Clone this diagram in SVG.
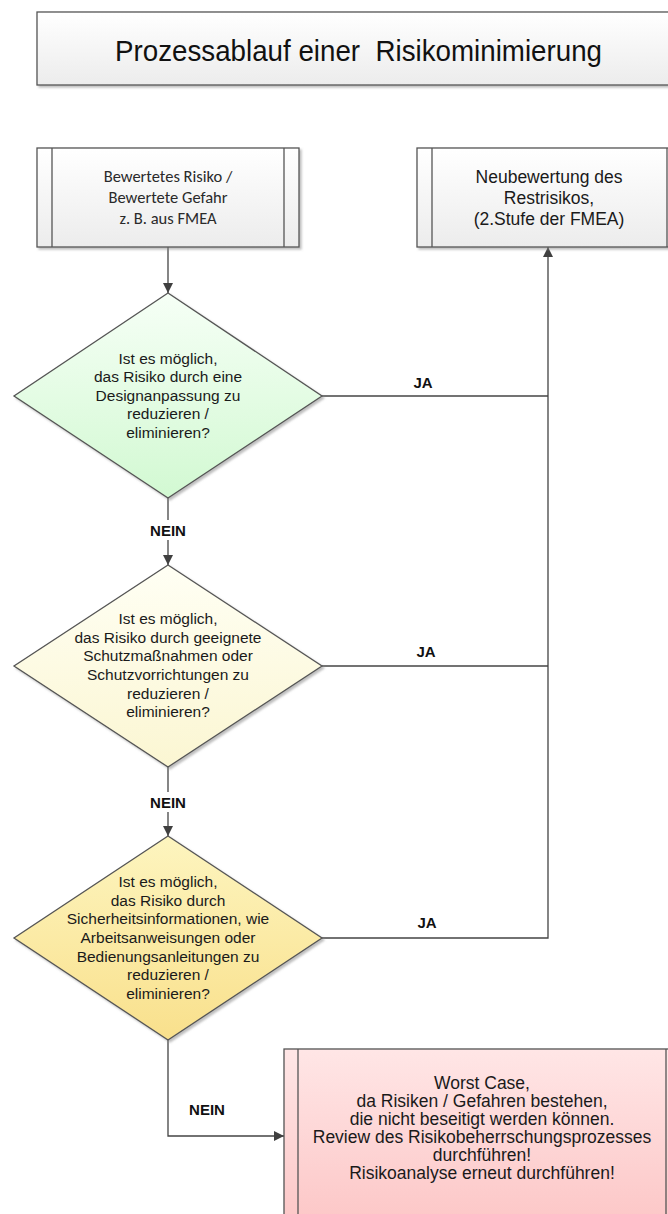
<svg xmlns="http://www.w3.org/2000/svg" width="668" height="1214" viewBox="0 0 668 1214">
<defs>
<linearGradient id="gBox" x1="0" y1="0" x2="0" y2="1"><stop offset="0" stop-color="#ffffff"/><stop offset="1" stop-color="#ececec"/></linearGradient>
<linearGradient id="gGreen" x1="0" y1="0" x2="0" y2="1"><stop offset="0" stop-color="#f6fff6"/><stop offset="1" stop-color="#d2f9d2"/></linearGradient>
<linearGradient id="gLYellow" x1="0" y1="0" x2="0" y2="1"><stop offset="0" stop-color="#fffff4"/><stop offset="1" stop-color="#fbf6d2"/></linearGradient>
<linearGradient id="gYellow" x1="0" y1="0" x2="0" y2="1"><stop offset="0" stop-color="#fdf5bf"/><stop offset="1" stop-color="#f9e08c"/></linearGradient>
<linearGradient id="gPink" x1="0" y1="0" x2="0" y2="1"><stop offset="0" stop-color="#ffe6e6"/><stop offset="1" stop-color="#fcc4c4"/></linearGradient>
<filter id="shadow" x="-10%" y="-10%" width="130%" height="130%"><feDropShadow dx="2" dy="2" stdDeviation="1.2" flood-color="#888" flood-opacity="0.55"/></filter>
<marker id="arrow" viewBox="0 0 10 12" refX="10" refY="6" markerWidth="10" markerHeight="12" markerUnits="userSpaceOnUse" orient="auto"><path d="M0,1 L10,6 L0,11 Z" fill="#404040"/></marker>
</defs>
<style>
.shape{stroke:#555;stroke-width:1.3;filter:url(#shadow)}
.inner{stroke:#555;stroke-width:1.3;fill:none}
.conn{stroke:#444;stroke-width:1.3;fill:none}
.title{font-family:"Liberation Sans",Arial,sans-serif;font-size:30px;fill:#111;white-space:pre}
.cal{font-family:Carlito,Lato,"Liberation Sans",sans-serif;font-size:16.5px;fill:#2a2a2a;text-anchor:middle}
.ar{font-family:"Liberation Sans",Arial,sans-serif;font-size:17.5px;fill:#1a1a1a;text-anchor:middle}
.dt{font-family:"Liberation Sans",Arial,sans-serif;font-size:15.5px;fill:#1a1a1a;text-anchor:middle}
.lbl{font-family:"Liberation Sans",Arial,sans-serif;font-size:15px;font-weight:bold;fill:#111;text-anchor:middle}
</style>
<rect width="668" height="1214" fill="#ffffff"/>

<g id="title">
<rect class="shape" x="37" y="12" width="648" height="73" fill="url(#gBox)"/>
<text class="title" x="115" y="61" textLength="487" lengthAdjust="spacingAndGlyphs" xml:space="preserve">Prozessablauf einer  Risikominimierung</text>
</g>

<g id="connectors">
<line class="conn" x1="168" y1="247" x2="168" y2="293" marker-end="url(#arrow)"/>
<line class="conn" x1="168" y1="498" x2="168" y2="565" marker-end="url(#arrow)"/>
<line class="conn" x1="168" y1="767" x2="168" y2="836" marker-end="url(#arrow)"/>
<polyline class="conn" points="168,1040 168,1136 284,1136" marker-end="url(#arrow)"/>
<line class="conn" x1="322" y1="396" x2="548" y2="396"/>
<line class="conn" x1="322" y1="666" x2="548" y2="666"/>
<polyline class="conn" points="322,938 548,938 548,247" marker-end="url(#arrow)"/>
<rect x="144" y="520" width="48" height="20" fill="#ffffff"/>
<rect x="144" y="792" width="48" height="20" fill="#ffffff"/>
<text class="lbl" x="168" y="536">NEIN</text>
<text class="lbl" x="168" y="808">NEIN</text>
<text class="lbl" x="207" y="1115">NEIN</text>
<text class="lbl" x="423" y="388">JA</text>
<text class="lbl" x="426" y="657">JA</text>
<text class="lbl" x="427" y="928">JA</text>
</g>

<g id="start">
<rect class="shape" x="37" y="148" width="262" height="99" fill="url(#gBox)"/>
<line class="inner" x1="52" y1="148" x2="52" y2="247"/>
<line class="inner" x1="284" y1="148" x2="284" y2="247"/>
<text class="cal" x="168" y="182">Bewertetes Risiko /</text>
<text class="cal" x="168" y="203">Bewertete Gefahr</text>
<text class="cal" x="168" y="224">z. B. aus FMEA</text>
</g>

<g id="reassess">
<rect class="shape" x="417" y="148" width="265" height="99" fill="url(#gBox)"/>
<line class="inner" x1="432" y1="148" x2="432" y2="247"/>
<line class="inner" x1="667" y1="148" x2="667" y2="247"/>
<text class="ar" x="549" y="183">Neubewertung des</text>
<text class="ar" x="549" y="204">Restrisikos,</text>
<text class="ar" x="549" y="225">(2.Stufe der FMEA)</text>
</g>

<g id="decision1">
<polygon class="shape" points="168,293 322,396 168,498 14,396" fill="url(#gGreen)"/>
<text class="dt" x="168" y="363.5">Ist es möglich,</text>
<text class="dt" x="168" y="382">das Risiko durch eine</text>
<text class="dt" x="168" y="400.7">Designanpassung zu</text>
<text class="dt" x="168" y="419.3">reduzieren /</text>
<text class="dt" x="168" y="438">eliminieren?</text>
</g>

<g id="decision2">
<polygon class="shape" points="168,565 322,666 168,767 14,666" fill="url(#gLYellow)"/>
<text class="dt" x="168" y="624">Ist es möglich,</text>
<text class="dt" x="168" y="642.7">das Risiko durch geeignete</text>
<text class="dt" x="168" y="661.3">Schutzmaßnahmen oder</text>
<text class="dt" x="168" y="680">Schutzvorrichtungen zu</text>
<text class="dt" x="168" y="698.7">reduzieren /</text>
<text class="dt" x="168" y="717.3">eliminieren?</text>
</g>

<g id="decision3">
<polygon class="shape" points="168,836 322,938 168,1040 14,938" fill="url(#gYellow)"/>
<text class="dt" x="168" y="887">Ist es möglich,</text>
<text class="dt" x="168" y="905.7">das Risiko durch</text>
<text class="dt" x="168" y="924.3">Sicherheitsinformationen, wie</text>
<text class="dt" x="168" y="943">Arbeitsanweisungen oder</text>
<text class="dt" x="168" y="961.7">Bedienungsanleitungen zu</text>
<text class="dt" x="168" y="980.3">reduzieren /</text>
<text class="dt" x="168" y="999">eliminieren?</text>
</g>

<g id="worstcase">
<rect class="shape" x="284" y="1049" width="396" height="190" fill="url(#gPink)"/>
<line class="inner" x1="298" y1="1049" x2="298" y2="1239"/>
<line class="inner" x1="666" y1="1049" x2="666" y2="1239"/>
<text class="ar" x="482" y="1089">Worst Case,</text>
<text class="ar" x="482" y="1107">da Risiken / Gefahren bestehen,</text>
<text class="ar" x="482" y="1125">die nicht beseitigt werden können.</text>
<text class="ar" x="482" y="1143">Review des Risikobeherrschungsprozesses</text>
<text class="ar" x="482" y="1161">durchführen!</text>
<text class="ar" x="482" y="1179">Risikoanalyse erneut durchführen!</text>
</g>
</svg>
